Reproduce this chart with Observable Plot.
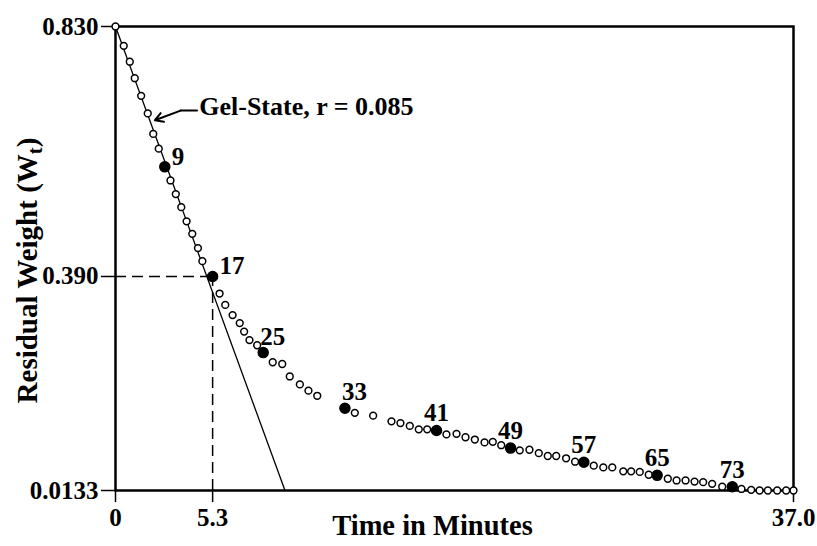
<!DOCTYPE html>
<html><head><meta charset="utf-8">
<script src="https://cdn.jsdelivr.net/npm/d3@7"></script>
<script src="https://cdn.jsdelivr.net/npm/@observablehq/plot@0.6"></script>
<style>
body{margin:0;background:#fff;}
#chart svg text{font-weight:bold;}
</style></head><body><div id="chart"></div>
<script>
// ---- data ----
const pointNo = [1,2,3,4,5,6,7,8,9,10,11,12,13,14,15,16,17,18,19,20,21,22,23,24,25,26,27,28,29,30,31,
  33,34,35,36,37,38,39,40,41,42,43,44,45,46,47,48,49,50,51,52,53,54,55,56,57,58,59,60,61,62,63,64,65,
  66,67,68,69,70,71,72,73,74,75,76,77,78,79,80];
const timeMin = [0,0.45,0.78,1.05,1.40,1.76,2.06,2.36,2.69,3.00,3.29,3.59,3.88,4.19,4.50,4.74,5.3,5.68,5.99,6.39,6.78,7.02,7.31,7.73,8.06,8.58,9.10,9.51,10.06,10.53,11.01,
  12.52,13.06,14.06,15.06,15.55,16.06,16.55,17.01,17.52,18.06,18.61,19.10,19.61,20.14,20.59,21.05,21.56,22.06,22.59,23.10,23.59,24.05,24.59,25.08,25.56,26.10,26.62,27.11,27.71,28.14,28.61,29.10,29.56,
  30.14,30.62,31.11,31.60,32.07,32.56,33.11,33.66,34.16,34.69,35.15,35.60,36.11,36.60,37.0];
const residualWt = [0.830,0.796,0.768,0.739,0.708,0.677,0.641,0.615,0.583,0.559,0.535,0.512,0.487,0.465,0.440,0.417,0.390,0.360,0.340,0.322,0.308,0.293,0.278,0.269,0.256,0.239,0.236,0.214,0.200,0.189,0.180,
  0.158,0.150,0.145,0.135,0.132,0.127,0.121,0.121,0.119,0.112,0.113,0.107,0.103,0.098,0.099,0.093,0.088,0.084,0.085,0.079,0.074,0.074,0.070,0.064,0.063,0.057,0.054,0.054,0.047,0.047,0.046,0.041,0.040,
  0.034,0.031,0.031,0.029,0.028,0.025,0.020,0.020,0.016,0.0145,0.0133,0.0133,0.0133,0.0133,0.0133];
const labeledNo = [9,17,25,33,41,49,57,65,73];
const sideLabels = [9,17];
const upRightLabels = [25,33];
const xTicks = [0, 5.3, 37.0];
const xTickLabels = ["0","5.3","37.0"];
const yTicks = [0.0133, 0.390, 0.830];
const yTickLabels = ["0.0133","0.390","0.830"];
const gelLineX = [0, 9.25];
const gelLineY = [0.830, 0.0133];
const markTime = 5.3, markWt = 0.390;
const gelText = "Gel-State, r = 0.085";
const gelTextPos = {x: 4.57, y: 0.689};
const gelArrowX = [4.45, 3.55, 2.15];
const gelArrowY = [0.682, 0.682, 0.665];
const xTitle = "Time in Minutes";
const yTitle = "Residual Weight (Wt)";

const pts = pointNo.map((n,i)=>({n, t: timeMin[i], w: residualWt[i]}));
const gelLine = gelLineX.map((x,i)=>({x, y: gelLineY[i]}));
const arrowPts = gelArrowX.map((x,i)=>({x, y: gelArrowY[i]}));
const filled = pts.filter(d=>labeledNo.includes(d.n));
const open = pts.filter(d=>!labeledNo.includes(d.n));

const chart = Plot.plot({
  width: 817, height: 546,
  marginLeft: 115, marginRight: 24, marginTop: 26, marginBottom: 56,
  style: {fontFamily: "'Liberation Serif', 'Times New Roman', serif", background: "#fff", color: "#000"},
  x: {domain: [0, 37]},
  y: {domain: [0.0133, 0.830]},
  marks: [
    Plot.frame({stroke: "#000", strokeWidth: 2.5}),
    Plot.axisX(xTicks, {tickSize: 12, tickPadding: 6, strokeWidth: 1.5, fontSize: 25, tickFormat: d => xTickLabels[xTicks.indexOf(d)], label: null}),
    Plot.axisY(yTicks, {tickSize: 14, tickPadding: 3, strokeWidth: 1.5, fontSize: 25, tickFormat: d => yTickLabels[yTicks.indexOf(d)], label: null}),
    Plot.ruleY([markWt], {x1: 0, x2: markTime, stroke: "#000", strokeWidth: 1.5, strokeDasharray: "11,6"}),
    Plot.ruleX([markTime], {y1: 0.0133, y2: markWt, stroke: "#000", strokeWidth: 1.5, strokeDasharray: "11,6"}),
    Plot.line(gelLine, {x: "x", y: "y", stroke: "#000", strokeWidth: 1.3}),
    Plot.line(arrowPts.slice(0,2), {x: "x", y: "y", stroke: "#000", strokeWidth: 2}),
    Plot.arrow([arrowPts], {x1: d=>d[1].x, y1: d=>d[1].y, x2: d=>d[2].x, y2: d=>d[2].y, stroke: "#000", strokeWidth: 2, headLength: 9}),
    Plot.text([gelText], {x: gelTextPos.x, y: gelTextPos.y, text: d=>d, textAnchor: "start", fontSize: 26}),
    Plot.dot(open, {x: "t", y: "w", r: 3.4, fill: "#fff", stroke: "#000", strokeWidth: 1.5}),
    Plot.dot(filled, {x: "t", y: "w", r: 5, fill: "#000", stroke: "#000"}),
    Plot.text(filled.filter(d=>sideLabels.includes(d.n)), {x: "t", y: "w", text: d=>String(d.n), textAnchor: "start", dx: 7, dy: -10, fontSize: 25}),
    Plot.text(filled.filter(d=>upRightLabels.includes(d.n)), {x: "t", y: "w", text: d=>String(d.n), textAnchor: "start", dx: -3, dy: -16, fontSize: 25}),
    Plot.text(filled.filter(d=>!sideLabels.includes(d.n) && !upRightLabels.includes(d.n)), {x: "t", y: "w", text: d=>String(d.n), dy: -17, fontSize: 25}),
    Plot.text([xTitle], {frameAnchor: "bottom", text: d=>d, dx: -22, dy: 44, fontSize: 28.5}),
    Plot.text([yTitle], {frameAnchor: "left", text: d=>d, rotate: -90, textAnchor: "middle", dx: -88, dy: 12, fontSize: 29})
  ]
});
document.getElementById("chart").appendChild(chart);

// subscript t in (Wt)
d3.select(chart).selectAll("text").filter(function(){ return this.textContent === yTitle; }).each(function(){
  const t = d3.select(this);
  t.text(null);
  t.append("tspan").text("Residual Weight (W");
  t.append("tspan").attr("font-size", "0.72em").attr("dy", "5").text("t");
  t.append("tspan").attr("dy", "-5").text(")");
});
</script></body></html>
